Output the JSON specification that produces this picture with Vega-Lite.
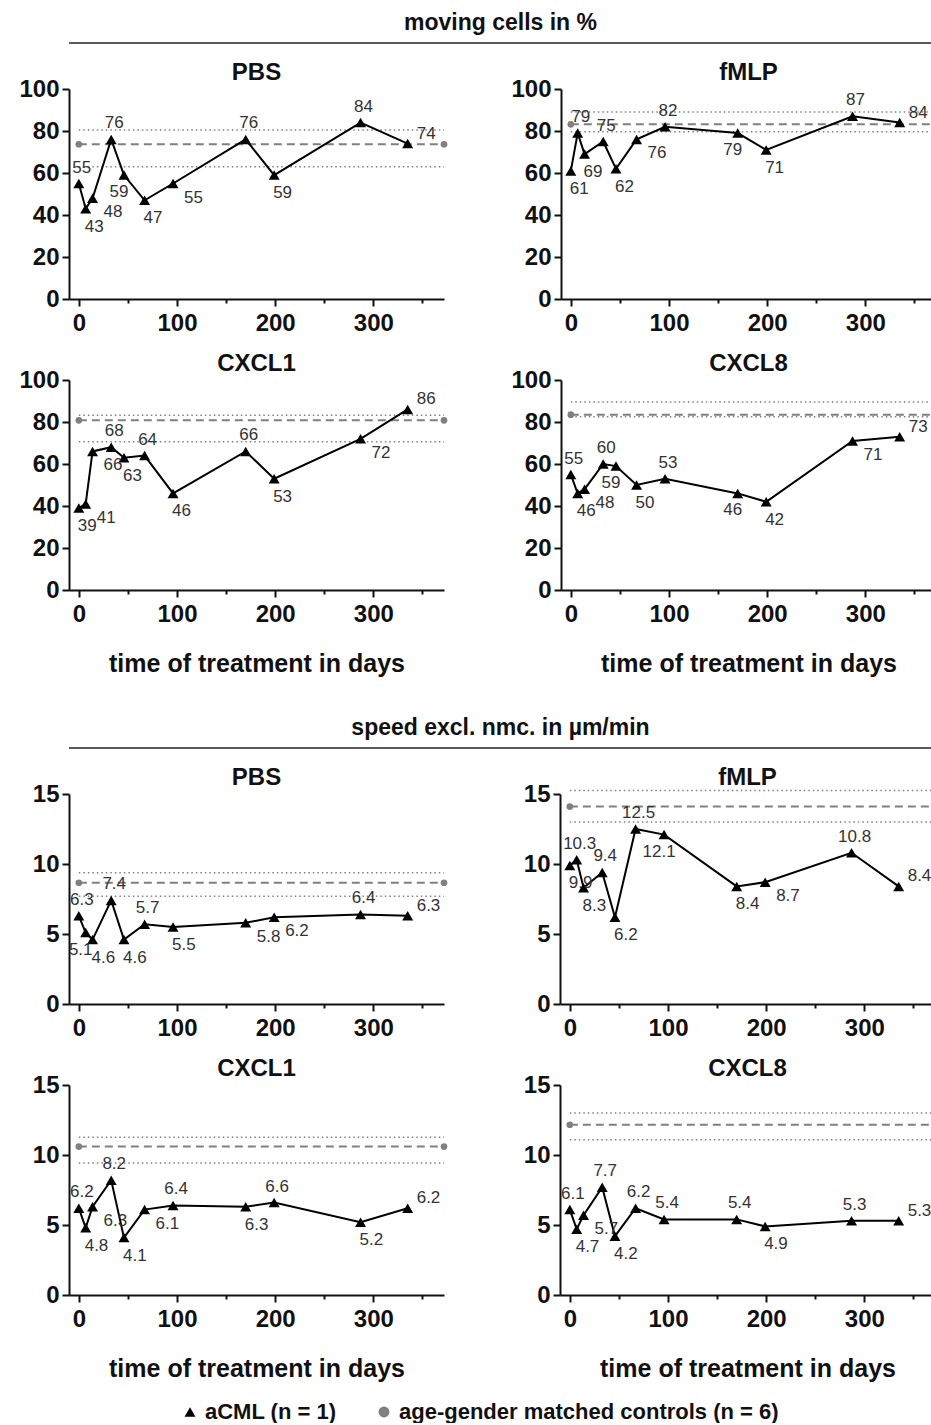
{
  "$schema": "https://vega.github.io/schema/vega-lite/v6.json",
  "background": "white",
  "padding": {"left": 18, "top": 12, "right": 0, "bottom": 0},
  "datasets": {
    "d": [
      {"sec":"m","stim":"PBS","day":0,"v":55},{"sec":"m","stim":"PBS","day":7,"v":43},{"sec":"m","stim":"PBS","day":14,"v":48},{"sec":"m","stim":"PBS","day":33,"v":76},{"sec":"m","stim":"PBS","day":46,"v":59},{"sec":"m","stim":"PBS","day":67,"v":47},{"sec":"m","stim":"PBS","day":96,"v":55},{"sec":"m","stim":"PBS","day":170,"v":76},{"sec":"m","stim":"PBS","day":199,"v":59},{"sec":"m","stim":"PBS","day":287,"v":84},{"sec":"m","stim":"PBS","day":335,"v":74},
      {"sec":"m","stim":"fMLP","day":0,"v":61},{"sec":"m","stim":"fMLP","day":7,"v":79},{"sec":"m","stim":"fMLP","day":14,"v":69},{"sec":"m","stim":"fMLP","day":33,"v":75},{"sec":"m","stim":"fMLP","day":46,"v":62},{"sec":"m","stim":"fMLP","day":67,"v":76},{"sec":"m","stim":"fMLP","day":96,"v":82},{"sec":"m","stim":"fMLP","day":170,"v":79},{"sec":"m","stim":"fMLP","day":199,"v":71},{"sec":"m","stim":"fMLP","day":287,"v":87},{"sec":"m","stim":"fMLP","day":335,"v":84},
      {"sec":"m","stim":"CXCL1","day":0,"v":39},{"sec":"m","stim":"CXCL1","day":7,"v":41},{"sec":"m","stim":"CXCL1","day":14,"v":66},{"sec":"m","stim":"CXCL1","day":33,"v":68},{"sec":"m","stim":"CXCL1","day":46,"v":63},{"sec":"m","stim":"CXCL1","day":67,"v":64},{"sec":"m","stim":"CXCL1","day":96,"v":46},{"sec":"m","stim":"CXCL1","day":170,"v":66},{"sec":"m","stim":"CXCL1","day":199,"v":53},{"sec":"m","stim":"CXCL1","day":287,"v":72},{"sec":"m","stim":"CXCL1","day":335,"v":86},
      {"sec":"m","stim":"CXCL8","day":0,"v":55},{"sec":"m","stim":"CXCL8","day":7,"v":46},{"sec":"m","stim":"CXCL8","day":14,"v":48},{"sec":"m","stim":"CXCL8","day":33,"v":60},{"sec":"m","stim":"CXCL8","day":46,"v":59},{"sec":"m","stim":"CXCL8","day":67,"v":50},{"sec":"m","stim":"CXCL8","day":96,"v":53},{"sec":"m","stim":"CXCL8","day":170,"v":46},{"sec":"m","stim":"CXCL8","day":199,"v":42},{"sec":"m","stim":"CXCL8","day":287,"v":71},{"sec":"m","stim":"CXCL8","day":335,"v":73},
      {"sec":"s","stim":"PBS","day":0,"v":6.3},{"sec":"s","stim":"PBS","day":7,"v":5.1},{"sec":"s","stim":"PBS","day":14,"v":4.6},{"sec":"s","stim":"PBS","day":33,"v":7.4},{"sec":"s","stim":"PBS","day":46,"v":4.6},{"sec":"s","stim":"PBS","day":67,"v":5.7},{"sec":"s","stim":"PBS","day":96,"v":5.5},{"sec":"s","stim":"PBS","day":170,"v":5.8},{"sec":"s","stim":"PBS","day":199,"v":6.2},{"sec":"s","stim":"PBS","day":287,"v":6.4},{"sec":"s","stim":"PBS","day":335,"v":6.3},
      {"sec":"s","stim":"fMLP","day":0,"v":9.9},{"sec":"s","stim":"fMLP","day":7,"v":10.3},{"sec":"s","stim":"fMLP","day":14,"v":8.3},{"sec":"s","stim":"fMLP","day":33,"v":9.4},{"sec":"s","stim":"fMLP","day":46,"v":6.2},{"sec":"s","stim":"fMLP","day":67,"v":12.5},{"sec":"s","stim":"fMLP","day":96,"v":12.1},{"sec":"s","stim":"fMLP","day":170,"v":8.4},{"sec":"s","stim":"fMLP","day":199,"v":8.7},{"sec":"s","stim":"fMLP","day":287,"v":10.8},{"sec":"s","stim":"fMLP","day":335,"v":8.4},
      {"sec":"s","stim":"CXCL1","day":0,"v":6.2},{"sec":"s","stim":"CXCL1","day":7,"v":4.8},{"sec":"s","stim":"CXCL1","day":14,"v":6.3},{"sec":"s","stim":"CXCL1","day":33,"v":8.2},{"sec":"s","stim":"CXCL1","day":46,"v":4.1},{"sec":"s","stim":"CXCL1","day":67,"v":6.1},{"sec":"s","stim":"CXCL1","day":96,"v":6.4},{"sec":"s","stim":"CXCL1","day":170,"v":6.3},{"sec":"s","stim":"CXCL1","day":199,"v":6.6},{"sec":"s","stim":"CXCL1","day":287,"v":5.2},{"sec":"s","stim":"CXCL1","day":335,"v":6.2},
      {"sec":"s","stim":"CXCL8","day":0,"v":6.1},{"sec":"s","stim":"CXCL8","day":7,"v":4.7},{"sec":"s","stim":"CXCL8","day":14,"v":5.7},{"sec":"s","stim":"CXCL8","day":33,"v":7.7},{"sec":"s","stim":"CXCL8","day":46,"v":4.2},{"sec":"s","stim":"CXCL8","day":67,"v":6.2},{"sec":"s","stim":"CXCL8","day":96,"v":5.4},{"sec":"s","stim":"CXCL8","day":170,"v":5.4},{"sec":"s","stim":"CXCL8","day":199,"v":4.9},{"sec":"s","stim":"CXCL8","day":287,"v":5.3},{"sec":"s","stim":"CXCL8","day":335,"v":5.3},
      {"sec":"m","stim":"PBS","mean":73.7,"lo":63.0,"hi":80.5},
      {"sec":"m","stim":"fMLP","mean":83.2,"lo":79.7,"hi":89.0},
      {"sec":"m","stim":"CXCL1","mean":80.8,"lo":70.6,"hi":83.2},
      {"sec":"m","stim":"CXCL8","mean":83.5,"lo":82.5,"hi":89.5},
      {"sec":"s","stim":"PBS","mean":8.66,"lo":7.69,"hi":9.38},
      {"sec":"s","stim":"fMLP","mean":14.1,"lo":13.0,"hi":15.25},
      {"sec":"s","stim":"CXCL1","mean":10.6,"lo":9.43,"hi":11.26},
      {"sec":"s","stim":"CXCL8","mean":12.16,"lo":11.09,"hi":13.0}
    ]
  },
  "spacing": 41,
  "vconcat": [
    {
      "spacing": 17,
      "vconcat": [
        {
          "title": {"text": "moving cells in %", "offset": 7},
          "width": 863, "height": 1,
          "data": {"values": [{"b": 0}]},
          "mark": {"type": "rule", "color": "#222", "strokeWidth": 1.5},
          "encoding": {"y": {"field": "b", "type": "quantitative", "scale": {"domain": [0, 1]}, "axis": {"title": null, "labels": false, "ticks": false, "domain": false, "minExtent": 50, "maxExtent": 50}}}
        },
        {
          "spacing": 17,
          "vconcat": [
            {
              "data": {"name": "d"},
              "transform": [{"filter": "datum.sec == 'm' && (datum.stim == 'PBS' || datum.stim == 'fMLP')"}, {"window": [{"op": "lag", "field": "v", "as": "pv"}, {"op": "lead", "field": "v", "as": "nv"}], "groupby": ["stim", "mean"], "sort": [{"field": "day", "order": "ascending"}]}],
              "facet": {"column": {"field": "stim", "type": "nominal", "sort": ["PBS", "fMLP"], "header": {"title": null}}},
              "spacing": 62,
              "resolve": {"axis": {"x": "independent", "y": "independent"}},
              "spec": {
                "width": 375, "height": 210,
                "layer": [
                  {"transform": [{"filter": "isValid(datum.mean)"}], "mark": {"type": "rule", "color": "#808080", "strokeWidth": 1.5, "strokeDash": [1.5, 3]},
                   "encoding": {"x": {"datum": 0, "type": "quantitative", "scale": {"domain": [-10, 372], "nice": false}, "axis": {"title": null, "values": [0,25,50,75,100,125,150,175,200,225,250,275,300,325,350], "labelExpr": "datum.value % 100 === 0 ? datum.label : ''", "tickSize": {"condition": {"test": "datum.value % 100 === 0", "value": 7}, "value": 4}}},
                                "x2": {"datum": 372},
                                "y": {"field": "hi", "type": "quantitative", "scale": {"domain": [0, 100], "nice": false}, "axis": {"title": null, "values": [0, 20, 40, 60, 80, 100]}}}},
                  {"transform": [{"filter": "isValid(datum.mean)"}], "mark": {"type": "rule", "color": "#808080", "strokeWidth": 1.5, "strokeDash": [1.5, 3]},
                   "encoding": {"x": {"datum": 0, "type": "quantitative"}, "x2": {"datum": 372}, "y": {"field": "lo", "type": "quantitative"}}},
                  {"transform": [{"filter": "isValid(datum.mean)"}], "mark": {"type": "rule", "color": "#808080", "strokeWidth": 2, "strokeDash": [8, 5]},
                   "encoding": {"x": {"datum": 0, "type": "quantitative"}, "x2": {"datum": 372}, "y": {"field": "mean", "type": "quantitative"}}},
                  {"transform": [{"filter": "isValid(datum.mean)"}], "mark": {"type": "point", "filled": true, "color": "#808080", "opacity": 1, "size": 45},
                   "encoding": {"x": {"datum": 0, "type": "quantitative"}, "y": {"field": "mean", "type": "quantitative"}}},
                  {"transform": [{"filter": "isValid(datum.mean)"}], "mark": {"type": "point", "filled": true, "color": "#808080", "opacity": 1, "size": 45},
                   "encoding": {"x": {"datum": 372, "type": "quantitative"}, "y": {"field": "mean", "type": "quantitative"}}},
                  {"transform": [{"filter": "isValid(datum.v)"}], "mark": {"type": "line", "color": "#000", "strokeWidth": 2},
                   "encoding": {"x": {"field": "day", "type": "quantitative"}, "y": {"field": "v", "type": "quantitative"}}},
                  {"transform": [{"filter": "isValid(datum.v)"}], "mark": {"type": "point", "shape": "triangle-up", "filled": true, "color": "#000", "opacity": 1, "size": 120},
                   "encoding": {"x": {"field": "day", "type": "quantitative"}, "y": {"field": "v", "type": "quantitative"}}},
                  {"transform": [{"filter": "isValid(datum.v) && datum.nv == null"}],
                   "mark": {"type": "text", "fontSize": 17, "color": "#333", "dy": -10, "dx": 9, "align": "left"},
                   "encoding": {"x": {"field": "day", "type": "quantitative"}, "y": {"field": "v", "type": "quantitative"}, "text": {"field": "v", "type": "quantitative"}}},
                  {"transform": [{"filter": "isValid(datum.v) && datum.nv != null && (datum.pv == null || datum.v < datum.pv) && datum.v < datum.nv"}],
                   "mark": {"type": "text", "fontSize": 17, "color": "#333", "dy": 18, "dx": -1, "align": "left"},
                   "encoding": {"x": {"field": "day", "type": "quantitative"}, "y": {"field": "v", "type": "quantitative"}, "text": {"field": "v", "type": "quantitative"}}},
                  {"transform": [{"filter": "isValid(datum.v) && datum.pv != null && datum.nv != null && datum.pv < datum.v && datum.v < datum.nv"}],
                   "mark": {"type": "text", "fontSize": 17, "color": "#333", "dy": 14, "dx": 11, "align": "left"},
                   "encoding": {"x": {"field": "day", "type": "quantitative"}, "y": {"field": "v", "type": "quantitative"}, "text": {"field": "v", "type": "quantitative"}}},
                  {"transform": [{"filter": "isValid(datum.v) && datum.pv != null && datum.nv != null && datum.pv > datum.v && datum.v > datum.nv"}],
                   "mark": {"type": "text", "fontSize": 17, "color": "#333", "dy": 17, "dx": -5},
                   "encoding": {"x": {"field": "day", "type": "quantitative"}, "y": {"field": "v", "type": "quantitative"}, "text": {"field": "v", "type": "quantitative"}}},
                  {"transform": [{"filter": "isValid(datum.v) && datum.nv != null && !((datum.pv == null || datum.v < datum.pv) && datum.v < datum.nv) && !(datum.pv != null && datum.pv < datum.v && datum.v < datum.nv) && !(datum.pv != null && datum.pv > datum.v && datum.v > datum.nv)"}],
                   "mark": {"type": "text", "fontSize": 17, "color": "#333", "dy": -16, "dx": 3},
                   "encoding": {"x": {"field": "day", "type": "quantitative"}, "y": {"field": "v", "type": "quantitative"}, "text": {"field": "v", "type": "quantitative"}}}
                ]
              }
            },
            {
              "data": {"name": "d"},
              "transform": [{"filter": "datum.sec == 'm' && (datum.stim == 'CXCL1' || datum.stim == 'CXCL8')"}, {"window": [{"op": "lag", "field": "v", "as": "pv"}, {"op": "lead", "field": "v", "as": "nv"}], "groupby": ["stim", "mean"], "sort": [{"field": "day", "order": "ascending"}]}],
              "facet": {"column": {"field": "stim", "type": "nominal", "sort": ["CXCL1", "CXCL8"], "header": {"title": null}}},
              "spacing": 62,
              "resolve": {"axis": {"x": "independent", "y": "independent"}},
              "spec": {
                "width": 375, "height": 210,
                "layer": [
                  {"transform": [{"filter": "isValid(datum.mean)"}], "mark": {"type": "rule", "color": "#808080", "strokeWidth": 1.5, "strokeDash": [1.5, 3]},
                   "encoding": {"x": {"datum": 0, "type": "quantitative", "scale": {"domain": [-10, 372], "nice": false}, "axis": {"title": "time of treatment in days", "values": [0,25,50,75,100,125,150,175,200,225,250,275,300,325,350], "labelExpr": "datum.value % 100 === 0 ? datum.label : ''", "tickSize": {"condition": {"test": "datum.value % 100 === 0", "value": 7}, "value": 4}}},
                                "x2": {"datum": 372},
                                "y": {"field": "hi", "type": "quantitative", "scale": {"domain": [0, 100], "nice": false}, "axis": {"title": null, "values": [0, 20, 40, 60, 80, 100]}}}},
                  {"transform": [{"filter": "isValid(datum.mean)"}], "mark": {"type": "rule", "color": "#808080", "strokeWidth": 1.5, "strokeDash": [1.5, 3]},
                   "encoding": {"x": {"datum": 0, "type": "quantitative"}, "x2": {"datum": 372}, "y": {"field": "lo", "type": "quantitative"}}},
                  {"transform": [{"filter": "isValid(datum.mean)"}], "mark": {"type": "rule", "color": "#808080", "strokeWidth": 2, "strokeDash": [8, 5]},
                   "encoding": {"x": {"datum": 0, "type": "quantitative"}, "x2": {"datum": 372}, "y": {"field": "mean", "type": "quantitative"}}},
                  {"transform": [{"filter": "isValid(datum.mean)"}], "mark": {"type": "point", "filled": true, "color": "#808080", "opacity": 1, "size": 45},
                   "encoding": {"x": {"datum": 0, "type": "quantitative"}, "y": {"field": "mean", "type": "quantitative"}}},
                  {"transform": [{"filter": "isValid(datum.mean)"}], "mark": {"type": "point", "filled": true, "color": "#808080", "opacity": 1, "size": 45},
                   "encoding": {"x": {"datum": 372, "type": "quantitative"}, "y": {"field": "mean", "type": "quantitative"}}},
                  {"transform": [{"filter": "isValid(datum.v)"}], "mark": {"type": "line", "color": "#000", "strokeWidth": 2},
                   "encoding": {"x": {"field": "day", "type": "quantitative"}, "y": {"field": "v", "type": "quantitative"}}},
                  {"transform": [{"filter": "isValid(datum.v)"}], "mark": {"type": "point", "shape": "triangle-up", "filled": true, "color": "#000", "opacity": 1, "size": 120},
                   "encoding": {"x": {"field": "day", "type": "quantitative"}, "y": {"field": "v", "type": "quantitative"}}},
                  {"transform": [{"filter": "isValid(datum.v) && datum.nv == null"}],
                   "mark": {"type": "text", "fontSize": 17, "color": "#333", "dy": -10, "dx": 9, "align": "left"},
                   "encoding": {"x": {"field": "day", "type": "quantitative"}, "y": {"field": "v", "type": "quantitative"}, "text": {"field": "v", "type": "quantitative"}}},
                  {"transform": [{"filter": "isValid(datum.v) && datum.nv != null && (datum.pv == null || datum.v < datum.pv) && datum.v < datum.nv"}],
                   "mark": {"type": "text", "fontSize": 17, "color": "#333", "dy": 18, "dx": -1, "align": "left"},
                   "encoding": {"x": {"field": "day", "type": "quantitative"}, "y": {"field": "v", "type": "quantitative"}, "text": {"field": "v", "type": "quantitative"}}},
                  {"transform": [{"filter": "isValid(datum.v) && datum.pv != null && datum.nv != null && datum.pv < datum.v && datum.v < datum.nv"}],
                   "mark": {"type": "text", "fontSize": 17, "color": "#333", "dy": 14, "dx": 11, "align": "left"},
                   "encoding": {"x": {"field": "day", "type": "quantitative"}, "y": {"field": "v", "type": "quantitative"}, "text": {"field": "v", "type": "quantitative"}}},
                  {"transform": [{"filter": "isValid(datum.v) && datum.pv != null && datum.nv != null && datum.pv > datum.v && datum.v > datum.nv"}],
                   "mark": {"type": "text", "fontSize": 17, "color": "#333", "dy": 17, "dx": -5},
                   "encoding": {"x": {"field": "day", "type": "quantitative"}, "y": {"field": "v", "type": "quantitative"}, "text": {"field": "v", "type": "quantitative"}}},
                  {"transform": [{"filter": "isValid(datum.v) && datum.nv != null && !((datum.pv == null || datum.v < datum.pv) && datum.v < datum.nv) && !(datum.pv != null && datum.pv < datum.v && datum.v < datum.nv) && !(datum.pv != null && datum.pv > datum.v && datum.v > datum.nv)"}],
                   "mark": {"type": "text", "fontSize": 17, "color": "#333", "dy": -16, "dx": 3},
                   "encoding": {"x": {"field": "day", "type": "quantitative"}, "y": {"field": "v", "type": "quantitative"}, "text": {"field": "v", "type": "quantitative"}}}
                ]
              }
            }
          ]
        }
      ]
    },
    {
      "spacing": 17,
      "vconcat": [
        {
          "title": {"text": "speed excl. nmc. in µm/min", "offset": 7},
          "width": 863, "height": 1,
          "data": {"values": [{"b": 0}]},
          "mark": {"type": "rule", "color": "#222", "strokeWidth": 1.5},
          "encoding": {"y": {"field": "b", "type": "quantitative", "scale": {"domain": [0, 1]}, "axis": {"title": null, "labels": false, "ticks": false, "domain": false, "minExtent": 50, "maxExtent": 50}}}
        },
        {
          "spacing": 17,
          "vconcat": [
            {
              "data": {"name": "d"},
              "transform": [{"filter": "datum.sec == 's' && (datum.stim == 'PBS' || datum.stim == 'fMLP')"}, {"window": [{"op": "lag", "field": "v", "as": "pv"}, {"op": "lead", "field": "v", "as": "nv"}], "groupby": ["stim", "mean"], "sort": [{"field": "day", "order": "ascending"}]}],
              "facet": {"column": {"field": "stim", "type": "nominal", "sort": ["PBS", "fMLP"], "header": {"title": null}}},
              "spacing": 62,
              "resolve": {"axis": {"x": "independent", "y": "independent"}},
              "spec": {
                "width": 375, "height": 210,
                "layer": [
                  {"transform": [{"filter": "isValid(datum.mean)"}], "mark": {"type": "rule", "color": "#808080", "strokeWidth": 1.5, "strokeDash": [1.5, 3]},
                   "encoding": {"x": {"datum": 0, "type": "quantitative", "scale": {"domain": [-10, 372], "nice": false}, "axis": {"title": null, "values": [0,25,50,75,100,125,150,175,200,225,250,275,300,325,350], "labelExpr": "datum.value % 100 === 0 ? datum.label : ''", "tickSize": {"condition": {"test": "datum.value % 100 === 0", "value": 7}, "value": 4}}},
                                "x2": {"datum": 372},
                                "y": {"field": "hi", "type": "quantitative", "scale": {"domain": [0, 15], "nice": false}, "axis": {"title": null, "values": [0, 2.5, 5, 7.5, 10, 12.5, 15], "labelExpr": "datum.value % 5 === 0 ? datum.label : ''", "tickSize": {"condition": {"test": "datum.value % 5 === 0", "value": 7}, "value": 4}}}}},
                  {"transform": [{"filter": "isValid(datum.mean)"}], "mark": {"type": "rule", "color": "#808080", "strokeWidth": 1.5, "strokeDash": [1.5, 3]},
                   "encoding": {"x": {"datum": 0, "type": "quantitative"}, "x2": {"datum": 372}, "y": {"field": "lo", "type": "quantitative"}}},
                  {"transform": [{"filter": "isValid(datum.mean)"}], "mark": {"type": "rule", "color": "#808080", "strokeWidth": 2, "strokeDash": [8, 5]},
                   "encoding": {"x": {"datum": 0, "type": "quantitative"}, "x2": {"datum": 372}, "y": {"field": "mean", "type": "quantitative"}}},
                  {"transform": [{"filter": "isValid(datum.mean)"}], "mark": {"type": "point", "filled": true, "color": "#808080", "opacity": 1, "size": 45},
                   "encoding": {"x": {"datum": 0, "type": "quantitative"}, "y": {"field": "mean", "type": "quantitative"}}},
                  {"transform": [{"filter": "isValid(datum.mean)"}], "mark": {"type": "point", "filled": true, "color": "#808080", "opacity": 1, "size": 45},
                   "encoding": {"x": {"datum": 372, "type": "quantitative"}, "y": {"field": "mean", "type": "quantitative"}}},
                  {"transform": [{"filter": "isValid(datum.v)"}], "mark": {"type": "line", "color": "#000", "strokeWidth": 2},
                   "encoding": {"x": {"field": "day", "type": "quantitative"}, "y": {"field": "v", "type": "quantitative"}}},
                  {"transform": [{"filter": "isValid(datum.v)"}], "mark": {"type": "point", "shape": "triangle-up", "filled": true, "color": "#000", "opacity": 1, "size": 120},
                   "encoding": {"x": {"field": "day", "type": "quantitative"}, "y": {"field": "v", "type": "quantitative"}}},
                  {"transform": [{"filter": "isValid(datum.v) && datum.nv == null"}],
                   "mark": {"type": "text", "fontSize": 17, "color": "#333", "dy": -10, "dx": 9, "align": "left"},
                   "encoding": {"x": {"field": "day", "type": "quantitative"}, "y": {"field": "v", "type": "quantitative"}, "text": {"field": "v", "type": "quantitative", "format": ".1f"}}},
                  {"transform": [{"filter": "isValid(datum.v) && datum.nv != null && (datum.pv == null || datum.v < datum.pv) && datum.v < datum.nv"}],
                   "mark": {"type": "text", "fontSize": 17, "color": "#333", "dy": 18, "dx": -1, "align": "left"},
                   "encoding": {"x": {"field": "day", "type": "quantitative"}, "y": {"field": "v", "type": "quantitative"}, "text": {"field": "v", "type": "quantitative", "format": ".1f"}}},
                  {"transform": [{"filter": "isValid(datum.v) && datum.pv != null && datum.nv != null && datum.pv < datum.v && datum.v < datum.nv"}],
                   "mark": {"type": "text", "fontSize": 17, "color": "#333", "dy": 14, "dx": 11, "align": "left"},
                   "encoding": {"x": {"field": "day", "type": "quantitative"}, "y": {"field": "v", "type": "quantitative"}, "text": {"field": "v", "type": "quantitative", "format": ".1f"}}},
                  {"transform": [{"filter": "isValid(datum.v) && datum.pv != null && datum.nv != null && datum.pv > datum.v && datum.v > datum.nv"}],
                   "mark": {"type": "text", "fontSize": 17, "color": "#333", "dy": 17, "dx": -5},
                   "encoding": {"x": {"field": "day", "type": "quantitative"}, "y": {"field": "v", "type": "quantitative"}, "text": {"field": "v", "type": "quantitative", "format": ".1f"}}},
                  {"transform": [{"filter": "isValid(datum.v) && datum.nv != null && !((datum.pv == null || datum.v < datum.pv) && datum.v < datum.nv) && !(datum.pv != null && datum.pv < datum.v && datum.v < datum.nv) && !(datum.pv != null && datum.pv > datum.v && datum.v > datum.nv)"}],
                   "mark": {"type": "text", "fontSize": 17, "color": "#333", "dy": -16, "dx": 3},
                   "encoding": {"x": {"field": "day", "type": "quantitative"}, "y": {"field": "v", "type": "quantitative"}, "text": {"field": "v", "type": "quantitative", "format": ".1f"}}}
                ]
              }
            },
            {
              "data": {"name": "d"},
              "transform": [{"filter": "datum.sec == 's' && (datum.stim == 'CXCL1' || datum.stim == 'CXCL8')"}, {"window": [{"op": "lag", "field": "v", "as": "pv"}, {"op": "lead", "field": "v", "as": "nv"}], "groupby": ["stim", "mean"], "sort": [{"field": "day", "order": "ascending"}]}],
              "facet": {"column": {"field": "stim", "type": "nominal", "sort": ["CXCL1", "CXCL8"], "header": {"title": null}}},
              "spacing": 62,
              "resolve": {"axis": {"x": "independent", "y": "independent"}},
              "spec": {
                "width": 375, "height": 210,
                "layer": [
                  {"transform": [{"filter": "isValid(datum.mean)"}], "mark": {"type": "rule", "color": "#808080", "strokeWidth": 1.5, "strokeDash": [1.5, 3]},
                   "encoding": {"x": {"datum": 0, "type": "quantitative", "scale": {"domain": [-10, 372], "nice": false}, "axis": {"title": "time of treatment in days", "values": [0,25,50,75,100,125,150,175,200,225,250,275,300,325,350], "labelExpr": "datum.value % 100 === 0 ? datum.label : ''", "tickSize": {"condition": {"test": "datum.value % 100 === 0", "value": 7}, "value": 4}}},
                                "x2": {"datum": 372},
                                "y": {"field": "hi", "type": "quantitative", "scale": {"domain": [0, 15], "nice": false}, "axis": {"title": null, "values": [0, 2.5, 5, 7.5, 10, 12.5, 15], "labelExpr": "datum.value % 5 === 0 ? datum.label : ''", "tickSize": {"condition": {"test": "datum.value % 5 === 0", "value": 7}, "value": 4}}}}},
                  {"transform": [{"filter": "isValid(datum.mean)"}], "mark": {"type": "rule", "color": "#808080", "strokeWidth": 1.5, "strokeDash": [1.5, 3]},
                   "encoding": {"x": {"datum": 0, "type": "quantitative"}, "x2": {"datum": 372}, "y": {"field": "lo", "type": "quantitative"}}},
                  {"transform": [{"filter": "isValid(datum.mean)"}], "mark": {"type": "rule", "color": "#808080", "strokeWidth": 2, "strokeDash": [8, 5]},
                   "encoding": {"x": {"datum": 0, "type": "quantitative"}, "x2": {"datum": 372}, "y": {"field": "mean", "type": "quantitative"}}},
                  {"transform": [{"filter": "isValid(datum.mean)"}], "mark": {"type": "point", "filled": true, "opacity": 1, "size": 45},
                   "encoding": {"x": {"datum": 0, "type": "quantitative"}, "y": {"field": "mean", "type": "quantitative"},
                                "color": {"datum": "age-gender matched controls (n = 6)", "scale": {"domain": ["aCML (n = 1)", "age-gender matched controls (n = 6)"], "range": ["#000000", "#808080"]}, "legend": {"title": null}},
                                "shape": {"datum": "age-gender matched controls (n = 6)", "scale": {"domain": ["aCML (n = 1)", "age-gender matched controls (n = 6)"], "range": ["triangle-up", "circle"]}, "legend": {"title": null}}}},
                  {"transform": [{"filter": "isValid(datum.mean)"}], "mark": {"type": "point", "filled": true, "color": "#808080", "opacity": 1, "size": 45},
                   "encoding": {"x": {"datum": 372, "type": "quantitative"}, "y": {"field": "mean", "type": "quantitative"}}},
                  {"transform": [{"filter": "isValid(datum.v)"}], "mark": {"type": "line", "color": "#000", "strokeWidth": 2},
                   "encoding": {"x": {"field": "day", "type": "quantitative"}, "y": {"field": "v", "type": "quantitative"}}},
                  {"transform": [{"filter": "isValid(datum.v)"}], "mark": {"type": "point", "filled": true, "opacity": 1, "size": 120},
                   "encoding": {"x": {"field": "day", "type": "quantitative"}, "y": {"field": "v", "type": "quantitative"},
                                "color": {"datum": "aCML (n = 1)", "scale": {"domain": ["aCML (n = 1)", "age-gender matched controls (n = 6)"], "range": ["#000000", "#808080"]}, "legend": {"title": null}},
                                "shape": {"datum": "aCML (n = 1)", "scale": {"domain": ["aCML (n = 1)", "age-gender matched controls (n = 6)"], "range": ["triangle-up", "circle"]}, "legend": {"title": null}}}},
                  {"transform": [{"filter": "isValid(datum.v) && datum.nv == null"}],
                   "mark": {"type": "text", "fontSize": 17, "color": "#333", "dy": -10, "dx": 9, "align": "left"},
                   "encoding": {"x": {"field": "day", "type": "quantitative"}, "y": {"field": "v", "type": "quantitative"}, "text": {"field": "v", "type": "quantitative", "format": ".1f"}}},
                  {"transform": [{"filter": "isValid(datum.v) && datum.nv != null && (datum.pv == null || datum.v < datum.pv) && datum.v < datum.nv"}],
                   "mark": {"type": "text", "fontSize": 17, "color": "#333", "dy": 18, "dx": -1, "align": "left"},
                   "encoding": {"x": {"field": "day", "type": "quantitative"}, "y": {"field": "v", "type": "quantitative"}, "text": {"field": "v", "type": "quantitative", "format": ".1f"}}},
                  {"transform": [{"filter": "isValid(datum.v) && datum.pv != null && datum.nv != null && datum.pv < datum.v && datum.v < datum.nv"}],
                   "mark": {"type": "text", "fontSize": 17, "color": "#333", "dy": 14, "dx": 11, "align": "left"},
                   "encoding": {"x": {"field": "day", "type": "quantitative"}, "y": {"field": "v", "type": "quantitative"}, "text": {"field": "v", "type": "quantitative", "format": ".1f"}}},
                  {"transform": [{"filter": "isValid(datum.v) && datum.pv != null && datum.nv != null && datum.pv > datum.v && datum.v > datum.nv"}],
                   "mark": {"type": "text", "fontSize": 17, "color": "#333", "dy": 17, "dx": -5},
                   "encoding": {"x": {"field": "day", "type": "quantitative"}, "y": {"field": "v", "type": "quantitative"}, "text": {"field": "v", "type": "quantitative", "format": ".1f"}}},
                  {"transform": [{"filter": "isValid(datum.v) && datum.nv != null && !((datum.pv == null || datum.v < datum.pv) && datum.v < datum.nv) && !(datum.pv != null && datum.pv < datum.v && datum.v < datum.nv) && !(datum.pv != null && datum.pv > datum.v && datum.v > datum.nv)"}],
                   "mark": {"type": "text", "fontSize": 17, "color": "#333", "dy": -16, "dx": 3},
                   "encoding": {"x": {"field": "day", "type": "quantitative"}, "y": {"field": "v", "type": "quantitative"}, "text": {"field": "v", "type": "quantitative", "format": ".1f"}}}
                ]
              }
            }
          ]
        }
      ]
    }
  ],
  "config": {
    "font": "Liberation Sans",
    "view": {"stroke": null},
    "axis": {"labelFontSize": 24, "labelFontWeight": "bold", "labelColor": "#111", "domainColor": "#111", "domainWidth": 2, "tickColor": "#111", "tickWidth": 2, "tickSize": 7, "grid": false, "titleFontSize": 25, "titleFontWeight": "bold", "titleColor": "#111", "titlePadding": 25},
    "axisY": {"minExtent": 50, "maxExtent": 50, "labelPadding": 3},
    "axisX": {"labelPadding": 5, "labelFlush": false, "labelOverlap": false},
    "header": {"labelFontSize": 24, "labelFontWeight": "bold", "labelColor": "#111", "labelPadding": -8},
    "title": {"fontSize": 23, "fontWeight": "bold", "color": "#111", "anchor": "middle"},
    "legend": {"orient": "bottom", "direction": "horizontal", "labelFontSize": 22, "labelFontWeight": "bold", "labelColor": "#111", "symbolSize": 120, "columnPadding": 36, "labelLimit": 600, "offset": 20, "layout": {"bottom": {"anchor": "middle"}}}
  }
}
